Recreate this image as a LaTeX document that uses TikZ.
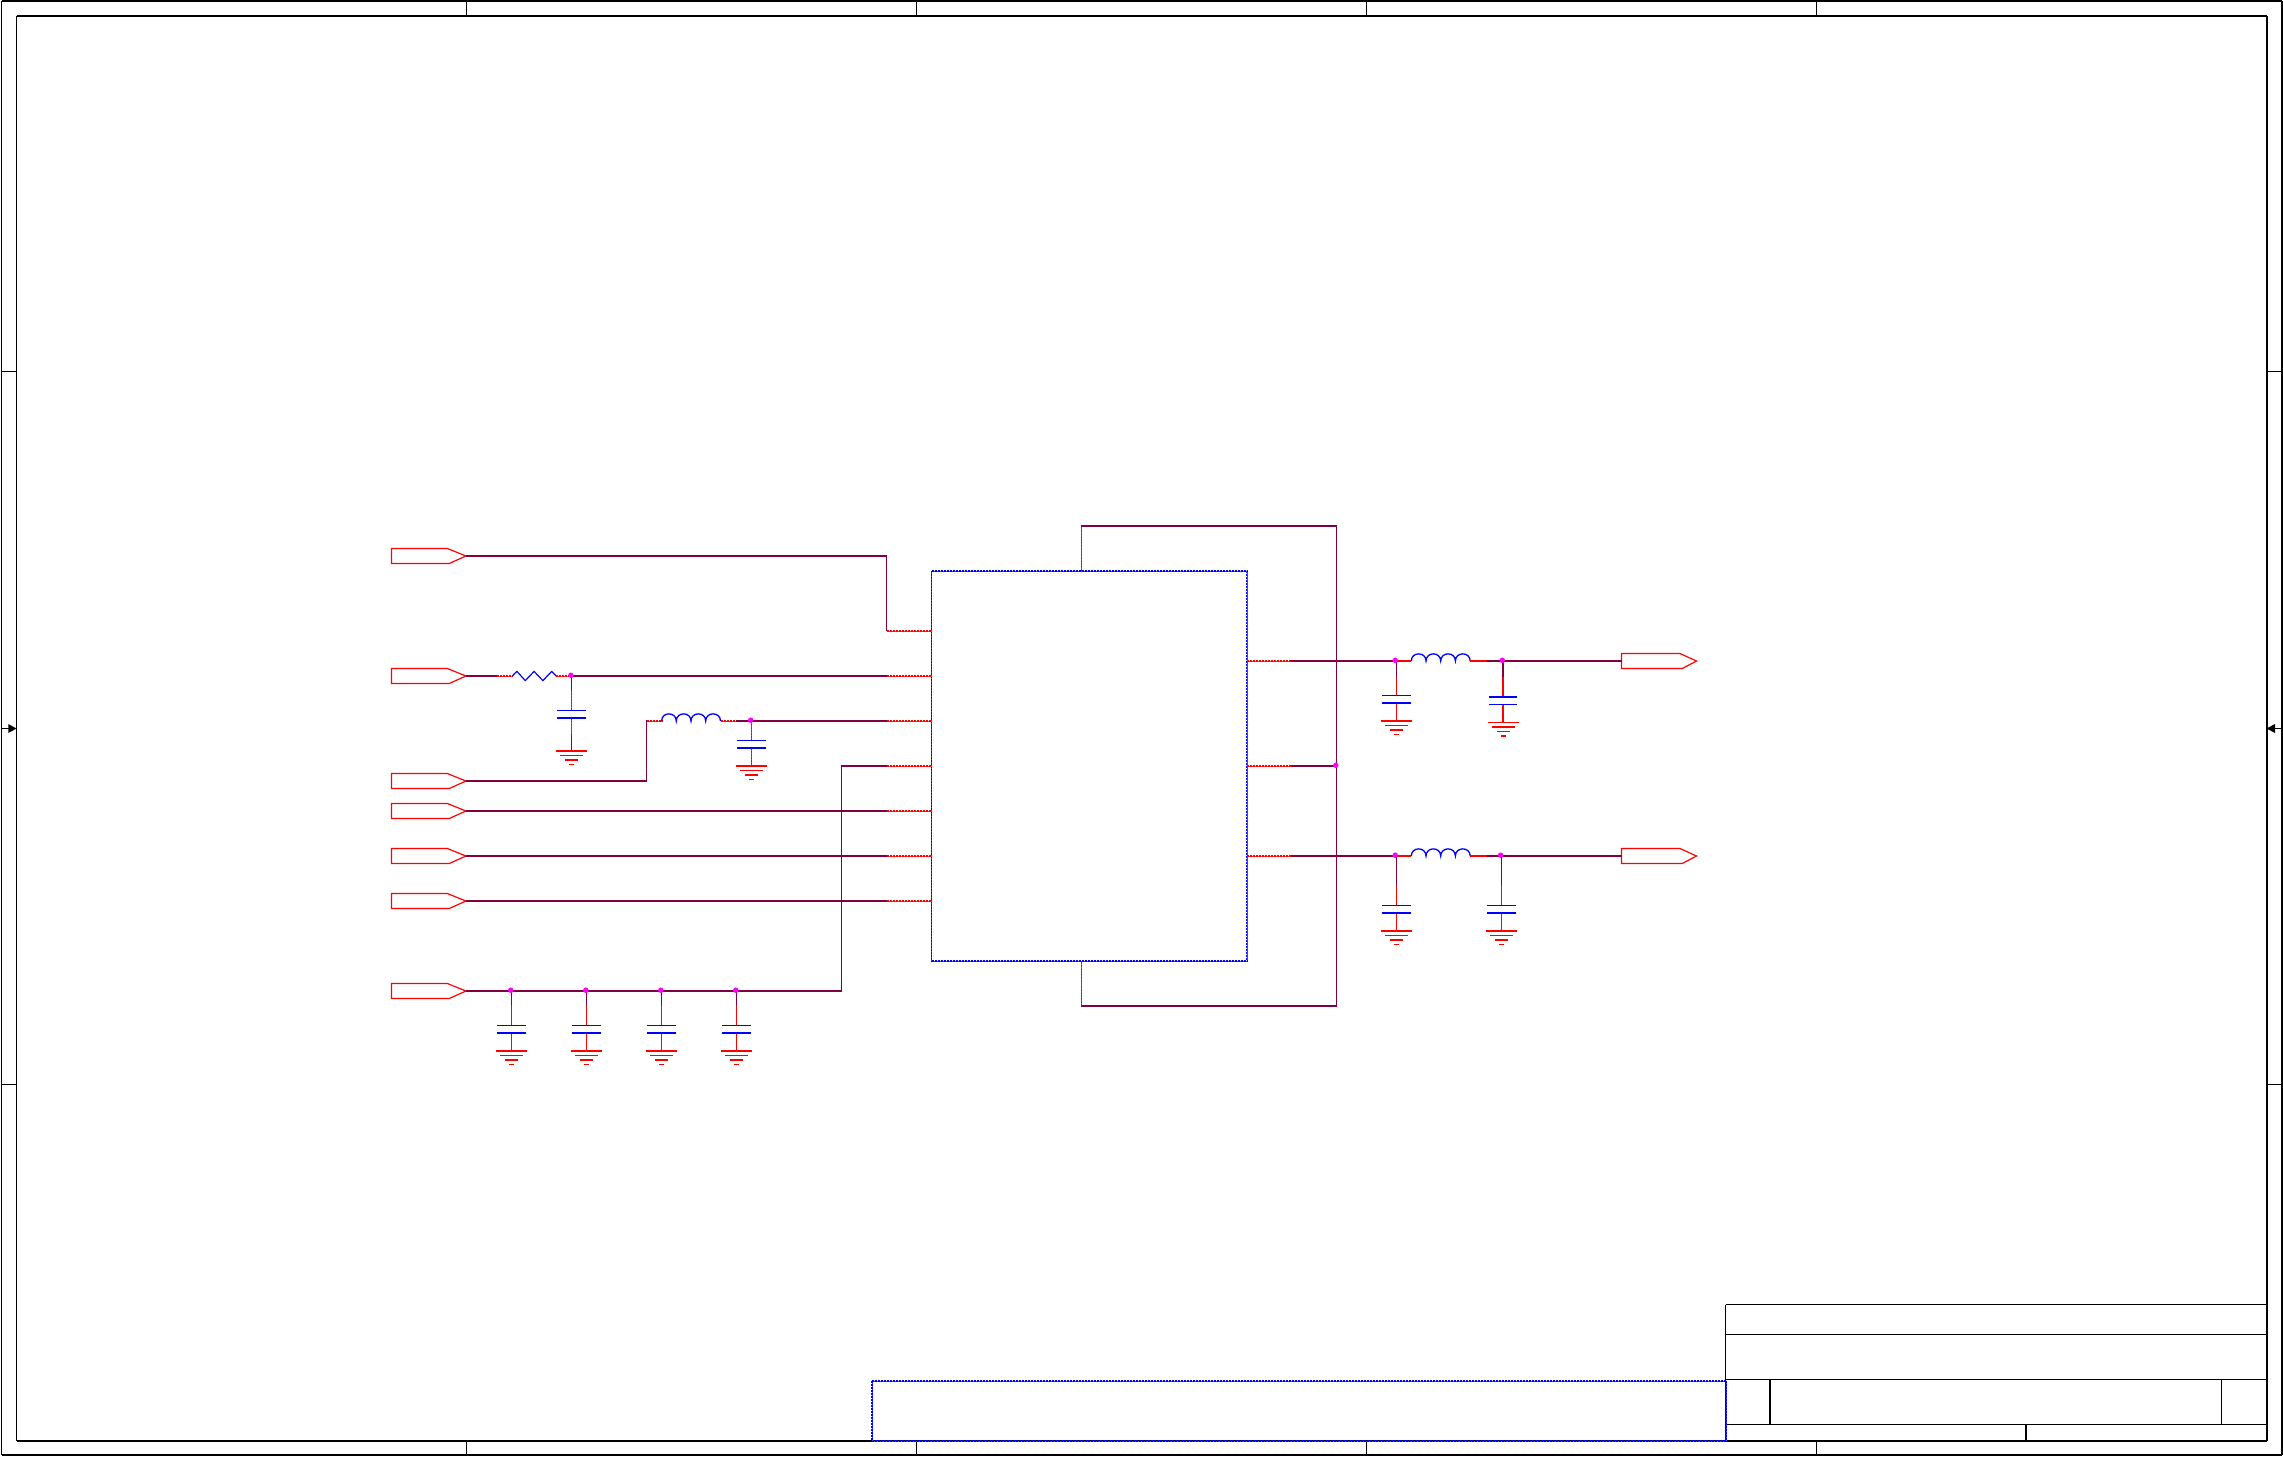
\documentclass[tikz,border=0pt]{standalone}
\usetikzlibrary{calc}
\definecolor{netpurple}{RGB}{128,0,64}
\definecolor{pinred}{RGB}{255,0,0}
\definecolor{partblue}{RGB}{0,0,255}
\definecolor{juncmag}{RGB}{255,0,255}
\tikzset{
  net/.style={draw=netpurple,line width=2pt,line cap=butt,line join=miter},
  netthin/.style={draw=netpurple,line width=1.3pt},
  netmid/.style={draw=netpurple,line width=1.6pt},
  pinwire/.style={draw=pinred,line width=2pt,dash pattern=on 2pt off 1pt,preaction={draw=pinred!80,solid}},
  pinthin/.style={draw=pinred,line width=1.1pt,dash pattern=on 2pt off 1pt,preaction={draw=pinred!80,solid}},
  redsolid/.style={draw=pinred,line width=2pt},
  redthin/.style={draw=pinred,line width=1.1pt},
  partthin/.style={draw=partblue,line width=1.1pt},
  partthick/.style={draw=partblue,line width=2pt},
  bluedotthick/.style={draw=partblue,line width=2pt,dash pattern=on 2pt off 1pt,preaction={draw=partblue!75,solid}},
  bluedotthin/.style={draw=partblue,line width=1.1pt,dash pattern=on 2pt off 1pt,preaction={draw=partblue!75,solid}},
  frameline/.style={draw=black,line width=1.3pt},
  framemid/.style={draw=black,line width=1.6pt},
  framethick/.style={draw=black,line width=2pt},
  junction/.style={circle,fill=juncmag,draw=none,inner sep=0pt,minimum size=5.5pt},
  portline/.style={draw=pinred,line width=1.2pt,line join=miter},
  sheetbox/.style={draw=none,inner sep=0pt,anchor=north west},
  gndsym/.pic={
    \draw[draw=pinred,line width=2pt] (-15.5,0) -- (15.5,0);
    \draw[draw=pinred,line width=1pt] (-11.5,4.5) -- (11.5,4.5);
    \draw[draw=pinred,line width=2pt] (-6.5,9) -- (6.5,9);
    \draw[draw=pinred,line width=1pt] (-2.5,13.5) -- (2.5,13.5);
  },
  gndalt/.pic={
    \draw[draw=pinred,line width=1pt] (-15.5,0) -- (15.5,0);
    \draw[draw=pinred,line width=2pt] (-11.5,4.5) -- (11.5,4.5);
    \draw[draw=pinred,line width=1pt] (-6.5,9) -- (6.5,9);
    \draw[draw=pinred,line width=2pt] (-2.5,13.5) -- (2.5,13.5);
  },
  capsym/.pic={
    \draw[partthin] (-14.2,0) -- (14.2,0);
    \draw[partthick] (-14.2,7.5) -- (14.2,7.5);
  },
  capalt/.pic={
    \draw[partthick] (-14.2,0) -- (14.2,0);
    \draw[partthin] (-14.2,7.5) -- (14.2,7.5);
  },
  portleft/.pic={
    \draw[portline] (-74.5,-7.5) -- (-18.7,-7.5) -- (0,0) -- (-16.8,7.5) -- (-74.5,7.5) -- cycle;
  },
  portright/.pic={
    \draw[portline] (0,-7.5) -- (58.4,-7.5) -- (75,0) -- (60.7,7.5) -- (0,7.5) -- cycle;
  },
  resbody/.pic={
    \draw[draw=partblue,line width=1.2pt,line join=round] (0,0) -- (4.6,-4.6) -- (13,4.6) -- (21.8,-4.6) -- (30.6,4.6) -- (39.4,-4.6) -- (44,0);
  },
  indbody/.pic={
    \draw[draw=partblue,line width=1.3pt]
      (0,0) .. controls (0,-9.5) and (14.7,-9.5) .. (14.7,0)
      .. controls (14.7,-9.5) and (29.4,-9.5) .. (29.4,0)
      .. controls (29.4,-9.5) and (44.1,-9.5) .. (44.1,0)
      .. controls (44.1,-9.5) and (58.9,-9.5) .. (58.9,0);
  },
}
\begin{document}
\begin{tikzpicture}[x=1pt,y=-1pt]
\useasboundingbox (0,0) rectangle (2283,1457);
\fill[white] (0,0) rectangle (2283,1457);

% sheet frame
\node[sheetbox,minimum width=2280pt,minimum height=1454pt] (outer) at (1.5,1) {};
\node[sheetbox,minimum width=2250pt,minimum height=1425pt] (inner) at (16.5,16) {};
\draw[framethick] (outer.north west) -- (outer.north east);
\draw[framethick] (outer.south west) -- (outer.south east);
\draw[frameline] (outer.north west) -- (outer.south west);
\draw[frameline] (outer.north east) -- (outer.south east);
\draw[framethick] (inner.north west) -- (inner.north east);
\draw[framethick] (inner.south west) -- (inner.south east);
\draw[frameline] (inner.north west) -- (inner.south west);
\draw[frameline] (inner.north east) -- (inner.south east);
\foreach \tx in {466.5,916.5,1366.5,1816.5}{
  \draw[frameline] (\tx,1) -- (\tx,16);
  \draw[frameline] (\tx,1441) -- (\tx,1455);
}
\foreach \ty in {371.5,1084.5}{
  \draw[frameline] (1.5,\ty) -- (16.5,\ty);
  \draw[frameline] (2266.5,\ty) -- (2281.5,\ty);
}
\draw[frameline] (1.5,728.5) -- (9,728.5);
\fill[black] (16.5,728.5) -- (8.3,724) -- (8.3,733) -- cycle;
\draw[frameline] (2281.5,728.5) -- (2275,728.5);
\fill[black] (2266.5,728.5) -- (2275,724) -- (2275,733) -- cycle;

% title block
\node[sheetbox,minimum width=541pt,minimum height=136pt] (tb) at (1725.5,1304.5) {};
\draw[frameline] (tb.north west) -- (tb.north east);
\draw[framemid] (tb.north west) -- (tb.south west);
\draw[draw=black,line width=2.5pt] (tb.north east) -- (tb.south east);
\draw[frameline] (1725.5,1334.5) -- (2266.5,1334.5);
\draw[frameline] (1725.5,1379.5) -- (2266.5,1379.5);
\draw[frameline] (1725.5,1424.5) -- (2266.5,1424.5);
\draw[framemid] (1770.2,1379.5) -- (1770.2,1424.5);
\draw[framemid] (2221.6,1379.5) -- (2221.6,1424.5);
\draw[framethick] (2026,1424.5) -- (2026,1441);

% blue sheet block
\node[sheetbox,minimum width=854pt,minimum height=60pt] (blk) at (872,1381) {};
\draw[bluedotthick] (blk.south west) -- (blk.south east);
\draw[bluedotthick] (blk.north west) -- (blk.north east);
\draw[bluedotthin] (blk.north west) -- (blk.south west);
\draw[bluedotthick] (blk.north east) -- (blk.south east);

% IC
\node[sheetbox,minimum width=315pt,minimum height=390pt] (ic) at (931.5,571) {};
\draw[bluedotthin] (ic.north west) -- (ic.south west);
\draw[bluedotthin] (ic.north east) -- (ic.south east);
\draw[bluedotthick] (ic.north west) -- (ic.north east);
\draw[bluedotthick] (ic.south west) -- (ic.south east);

% pin stub ends on the IC
\coordinate (w1) at (931.5,631);
\coordinate (w2) at (931.5,676);
\coordinate (w3) at (931.5,721);
\coordinate (w4) at (931.5,766);
\coordinate (w5) at (931.5,811);
\coordinate (w6) at (931.5,856);
\coordinate (w7) at (931.5,901);
\coordinate (e1) at (1246.5,661);
\coordinate (e2) at (1246.5,766);
\coordinate (e3) at (1246.5,856);
\coordinate (b1) at (886.5,631);
\coordinate (b2) at (886.5,676);
\coordinate (b3) at (886.5,721);
\coordinate (b4) at (886.5,766);
\coordinate (b5) at (886.5,811);
\coordinate (b6) at (886.5,856);
\coordinate (b7) at (886.5,901);
\coordinate (f1) at (1291,661);
\coordinate (f2) at (1291,766);
\coordinate (f3) at (1291,856);
\coordinate (nt) at (1081.5,571);
\coordinate (nb) at (1081.5,961);
\coordinate (tl) at (1081.5,526);
\coordinate (tr) at (1336.5,526);
\coordinate (bl) at (1081.5,1006);
\coordinate (br) at (1336.5,1006);

% ports
\coordinate (p1) at (466,556);
\coordinate (p2) at (466,676);
\coordinate (p3) at (466,781);
\coordinate (p4) at (466,811);
\coordinate (p5) at (466,856);
\coordinate (p6) at (466,901);
\coordinate (p7) at (466,991);
\coordinate (o1) at (1621.5,661);
\coordinate (o2) at (1621.5,856);
\foreach \p in {p1,p2,p3,p4,p5,p6,p7}{\pic at (\p) {portleft};}
\foreach \p in {o1,o2}{\pic at (\p) {portright};}

% wires: left side
\draw[net] (p1) -- (887,556);
\draw[netthin] (886.5,555) -- (b1);
\draw[pinwire] (b1) -- (w1);

% resistor net
\coordinate (r1a) at (512.3,676);
\coordinate (r1b) at (556.3,676);
\draw[net] (p2) -- (497,676);
\draw[pinwire] (497,676) -- (r1a);
\pic at (r1a) {resbody};
\draw[pinwire] (r1b) -- (570.9,676);
\draw[net] (570.9,676) -- (b2);
\draw[pinwire] (b2) -- (w2);

% inductor net
\coordinate (l1a) at (661.6,721);
\coordinate (l1b) at (720.5,721);
\draw[net] (p3) -- (647,781);
\draw[netmid] (646.5,782) -- (646.5,720);
\draw[pinwire] (646.5,721) -- (l1a);
\pic at (l1a) {indbody};
\draw[pinwire] (l1b) -- (735.8,721);
\draw[net] (735.8,721) -- (b3);
\draw[pinwire] (b3) -- (w3);

% big vertical
\draw[net] (p7) -- (842,991);
\draw[netthin] (841.5,992) -- (841.5,765);
\draw[net] (841,766) -- (b4);
\draw[pinwire] (b4) -- (w4);
\draw[net] (p4) -- (b5);
\draw[pinwire] (b5) -- (w5);
\draw[net] (p5) -- (b6);
\draw[pinwire] (b6) -- (w6);
\draw[net] (p6) -- (b7);
\draw[pinwire] (b7) -- (w7);

% caps on left
\draw[netthin] (571.5,676) -- (571.5,690);
\draw[pinthin] (571.5,690) -- (571.5,710.5);
\draw[pinthin] (571.5,718) -- (571.5,735);
\draw[netthin] (571.5,735) -- (571.5,751);
\pic at (571.5,710.5) {capsym};
\pic at (571.5,751) {gndsym};
\node[junction] (j1) at (570.9,675.3) {};

\draw[pinthin] (751.5,721) -- (751.5,740.5);
\draw[pinthin] (751.5,748) -- (751.5,766);
\pic at (751.5,740.5) {capsym};
\pic at (751.5,766) {gndsym};
\node[junction] (j2) at (750.7,720.2) {};

\foreach \cx/\jx in {511.5/510.8,586.5/585.8,661.5/660.8,736.5/735.8}{
  \draw[netthin] (\cx,991) -- (\cx,1005);
  \draw[redthin] (\cx,1005) -- (\cx,1025.5);
  \draw[redthin] (\cx,1033) -- (\cx,1051);
  \pic at (\cx,1025.5) {capsym};
  \pic at (\cx,1051) {gndsym};
  \node[junction] at (\jx,990.2) {};
}

% feedback loop
\draw[pinthin] (nt) -- (tl);
\draw[net] (1081,526) -- (1337,526);
\draw[netmid] (1336.5,525) -- (1336.5,1007);
\draw[net] (1337,1006) -- (1081,1006);
\draw[pinthin] (bl) -- (nb);

% right side
\foreach \e/\f in {e1/f1,e2/f2,e3/f3}{\draw[pinwire] (\e) -- (\f);}
\draw[net] (f1) -- (1395.2,661);
\draw[net] (f2) -- (1336.2,766);
\draw[net] (f3) -- (1395.2,856);

\foreach \yy/\out in {661/o1,856/o2}{
  \draw[redsolid] (1395.2,\yy) -- (1411.3,\yy);
  \pic at (1411.3,\yy) {indbody};
  \draw[redsolid] (1470.2,\yy) -- (1487.1,\yy);
  \draw[net] (1487.1,\yy) -- (\out);
}

% output caps
\draw[netthin] (1396.5,661) -- (1396.5,676.7);
\draw[redthin] (1396.5,676.7) -- (1396.5,695.5);
\draw[redthin] (1396.5,703) -- (1396.5,721);
\pic at (1396.5,695.5) {capsym};
\pic at (1396.5,721) {gndsym};

\draw[net] (1503,661) -- (1503,676.7);
\draw[redsolid] (1503,676.7) -- (1503,697);
\draw[redsolid] (1503,704.5) -- (1503,722.5);
\pic at (1503,697) {capalt};
\pic at (1503,722.5) {gndalt};

\draw[netthin] (1396.5,856) -- (1396.5,885);
\draw[redthin] (1396.5,885) -- (1396.5,905.5);
\draw[redthin] (1396.5,913) -- (1396.5,931);
\pic at (1396.5,905.5) {capsym};
\pic at (1396.5,931) {gndsym};

\draw[netthin] (1501.5,856) -- (1501.5,885);
\draw[redthin] (1501.5,885) -- (1501.5,905.5);
\draw[redthin] (1501.5,913) -- (1501.5,931);
\pic at (1501.5,905.5) {capsym};
\pic at (1501.5,931) {gndsym};

\node[junction] (j3) at (1335.8,765.3) {};
\node[junction] (j4) at (1395.2,660.3) {};
\node[junction] (j5) at (1502.3,660.3) {};
\node[junction] (j6) at (1395.2,855.2) {};
\node[junction] (j7) at (1500.6,855.2) {};
\end{tikzpicture}
\end{document}
